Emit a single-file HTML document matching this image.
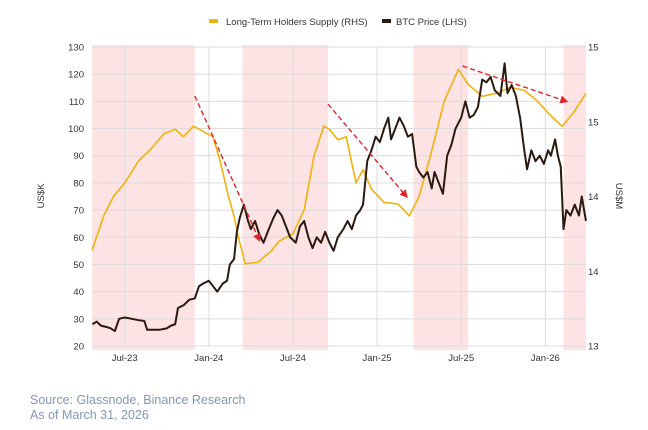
<!DOCTYPE html>
<html><head><meta charset="utf-8"><style>
body{margin:0;background:#fff;width:648px;height:430px;overflow:hidden;font-family:"Liberation Sans",sans-serif}
svg{position:absolute;left:0;top:0}
.src{position:absolute;left:30px;font-size:12.5px;color:#8497b3}
</style></head><body>
<svg id="c" width="648" height="430"></svg>
<div class="src" style="top:393px">Source: Glassnode, Binance Research</div>
<div class="src" style="top:408px">As of March 31, 2026</div>
<script>
const xTickLabels=["Jul-23","Jan-24","Jul-24","Jan-25","Jul-25","Jan-26"];
const xTickMonths=[6,12,18,24,30,36];
const leftTicks=[20,30,40,50,60,70,80,90,100,110,120,130];
const rightTicks=[13,13.5,14,14.5,15];
const rightTickLabels=["13","14","14","15","15"];
const shadeStart=[3.67,14.4,26.6,37.3];
const shadeEnd=[11.0,20.5,30.5,38.9];
const btcMonths=[3.7,4.0,4.3,4.7,5.0,5.3,5.6,6.0,6.5,7.0,7.4,7.6,8.0,8.5,9.0,9.3,9.6,9.8,10.2,10.6,11.0,11.3,11.6,12.0,12.3,12.6,13.0,13.3,13.5,13.8,14.0,14.2,14.5,14.8,15.0,15.3,15.6,15.9,16.2,16.6,16.9,17.2,17.5,17.8,18.2,18.5,18.8,19.1,19.4,19.7,20.0,20.3,20.6,20.9,21.2,21.6,21.9,22.2,22.5,22.8,23.0,23.3,23.6,23.9,24.2,24.5,24.8,25.0,25.3,25.6,25.9,26.2,26.5,26.8,27.0,27.3,27.6,27.9,28.1,28.4,28.7,29.0,29.3,29.6,30.0,30.3,30.6,30.9,31.2,31.5,31.8,32.1,32.4,32.8,33.1,33.3,33.6,33.9,34.2,34.5,34.7,35.0,35.3,35.6,35.9,36.2,36.4,36.7,36.9,37.1,37.3,37.5,37.8,38.1,38.4,38.6,38.9];
const btcPrice=[28,29,27.5,27,26.5,25.5,30,30.5,30,29.5,29.2,26,26,26,26.5,27.5,28,34,35,37,37.5,42,43,44,42,40,43,44,50,52,62,67,72,66,63,66,61,58,62,67,70,68,64,60,58,64,66,60,56,60,58,62,58,55,60,63,66,63,68,70,72,88,92,97,95,100,104,96,100,104,101,97,98,86,84,82,84,78,84,80,76,90,94,100,104,110,104,105,108,118,117,119,114,112,124,113,116,112,104,92,85,92,88,90,87,92,90,96,90,86,63,70,68,72,68,75,66];
const lthMonths=[3.67,4.5,5.2,6.0,7.0,7.8,8.8,9.6,10.2,10.9,11.5,12.3,12.8,13.4,13.8,14.1,14.6,15.5,16.5,17.0,18.0,18.8,19.5,20.2,20.6,21.2,21.8,22.5,23.0,23.6,24.5,25.5,26.3,27.0,27.8,28.8,29.8,30.5,31.5,32.5,33.5,34.5,35.3,35.8,36.5,37.2,38.0,38.9];
const lthSupply=[13.64,13.87,14.00,14.09,14.24,14.31,14.42,14.45,14.40,14.47,14.44,14.40,14.24,14.00,13.87,13.73,13.55,13.56,13.64,13.70,13.75,13.91,14.27,14.47,14.45,14.38,14.40,14.09,14.18,14.05,13.96,13.95,13.87,14.00,14.27,14.64,14.85,14.75,14.67,14.69,14.73,14.71,14.65,14.60,14.53,14.47,14.56,14.69];
const arrowFrom=[[11.0,112],[20.5,109],[30.1,123]];
const arrowTo=[[15.6,59],[26.1,75],[37.5,110]];

const svg=document.getElementById('c');const NS='http://www.w3.org/2000/svg';
const X0=92,X1=586,Y0=47,Y1=346;
const xs=m=>124.7+(m-6)*14.02;
const yl=v=>Y0+(130-v)*(Y1-Y0)/110;
const yr=v=>Y1-(v-13)*(Y1-Y0)/2;
function el(t,a,p){const e=document.createElementNS(NS,t);for(const k in a)e.setAttribute(k,a[k]);(p||svg).appendChild(e);return e;}
shadeStart.forEach((s,i)=>{const r=el('rect',{x:xs(s),y:Y0-2,width:xs(shadeEnd[i])-xs(s),height:Y1-Y0+6,fill:'#fde3e4'});

});
leftTicks.forEach(v=>{const l=el('line',{x1:X0,x2:X1,y1:yl(v),y2:yl(v),stroke:'#dcdcdc','stroke-width':1});


const t=el('text',{x:84,y:yl(v)+3.5,'text-anchor':'end','font-size':9.5,fill:'#333'});t.textContent=v;

});
rightTicks.forEach((v,i)=>{const t=el('text',{x:588,y:yr(v)+3.5,'font-size':9.5,fill:'#333'});t.textContent=rightTickLabels[i];

});
xTickMonths.forEach((m,i)=>{const l=el('line',{x1:xs(m),x2:xs(m),y1:Y0,y2:Y1,stroke:'#dcdcdc','stroke-width':1});


const t=el('text',{x:xs(m),y:Y1+15,'text-anchor':'middle','font-size':9.5,fill:'#333'});t.textContent=xTickLabels[i];

});
let a=el('text',{x:0,y:0,transform:'translate(44,196) rotate(-90)','text-anchor':'middle','font-size':9.5,fill:'#333'});a.textContent='US$K';


a=el('text',{x:0,y:0,transform:'translate(616,196) rotate(90)','text-anchor':'middle','font-size':9.5,fill:'#333'});a.textContent='US$M';


let p=el('polyline',{points:lthMonths.map((m,i)=>xs(m)+','+yr(lthSupply[i])).join(' '),fill:'none',stroke:'#f0b20e','stroke-width':1.6,'stroke-linejoin':'round'});


p=el('polyline',{points:btcMonths.map((m,i)=>xs(m)+','+yl(btcPrice[i])).join(' '),fill:'none',stroke:'#2a1a10','stroke-width':2,'stroke-linejoin':'round'});


const defs=el('defs',{});const mk=el('marker',{id:'ah',markerWidth:8,markerHeight:8,refX:6,refY:4,orient:'auto',markerUnits:'userSpaceOnUse'},defs);
el('path',{d:'M0,0 L8,4 L0,8 z',fill:'#e8202a'},mk);
arrowFrom.forEach((f,i)=>{const l=el('line',{x1:xs(f[0]),y1:yl(f[1]),x2:xs(arrowTo[i][0]),y2:yl(arrowTo[i][1]),stroke:'#e8202a','stroke-width':1.4,'stroke-dasharray':'5,3','marker-end':'url(#ah)'});

});
// legend
const lg=el('g',{});


el('rect',{x:209,y:19,width:9,height:4,fill:'#f0b20e'},lg);
let t=el('text',{x:226,y:25,'font-size':9.5,fill:'#333'},lg);t.textContent='Long-Term Holders Supply (RHS)';
el('rect',{x:382,y:19,width:9,height:4,fill:'#2a1a10'},lg);
t=el('text',{x:396,y:25,'font-size':9.5,fill:'#333'},lg);t.textContent='BTC Price (LHS)';
</script>
</body></html>
